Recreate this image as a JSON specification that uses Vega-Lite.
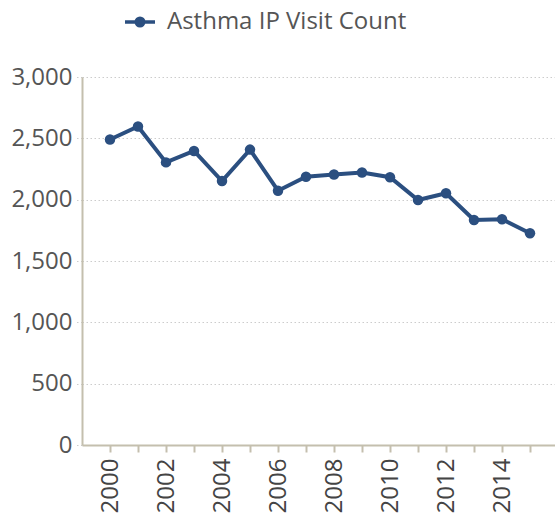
{
  "$schema": "https://vega.github.io/schema/vega-lite/v6.json",
  "autosize": "none",
  "width": 476,
  "height": 368,
  "padding": {"left": 82, "top": 77, "right": 0, "bottom": 70},
  "background": "white",
  "config": {
    "view": {"stroke": null},
    "font": "Open Sans"
  },
  "data": {
    "values": [
      {"year": 2000, "series": "Asthma IP Visit Count", "count": 2490},
      {"year": 2001, "series": "Asthma IP Visit Count", "count": 2597},
      {"year": 2002, "series": "Asthma IP Visit Count", "count": 2304},
      {"year": 2003, "series": "Asthma IP Visit Count", "count": 2397},
      {"year": 2004, "series": "Asthma IP Visit Count", "count": 2152},
      {"year": 2005, "series": "Asthma IP Visit Count", "count": 2408},
      {"year": 2006, "series": "Asthma IP Visit Count", "count": 2073},
      {"year": 2007, "series": "Asthma IP Visit Count", "count": 2187},
      {"year": 2008, "series": "Asthma IP Visit Count", "count": 2205},
      {"year": 2009, "series": "Asthma IP Visit Count", "count": 2222},
      {"year": 2010, "series": "Asthma IP Visit Count", "count": 2183},
      {"year": 2011, "series": "Asthma IP Visit Count", "count": 1997},
      {"year": 2012, "series": "Asthma IP Visit Count", "count": 2052},
      {"year": 2013, "series": "Asthma IP Visit Count", "count": 1834},
      {"year": 2014, "series": "Asthma IP Visit Count", "count": 1840},
      {"year": 2015, "series": "Asthma IP Visit Count", "count": 1726}
    ]
  },
  "encoding": {
    "x": {
      "field": "year",
      "type": "ordinal",
      "scale": {"type": "point", "padding": 1.05},
      "axis": {
        "title": null,
        "labelAngle": -90,
        "labelAlign": "right",
        "labelBaseline": "middle",
        "labelFontSize": 24,
        "labelColor": "#444444",
        "labelPadding": 6,
        "labelExpr": "datum.value % 2 == 0 ? datum.label : ''",
        "labelOverlap": false,
        "domainColor": "#c4bfae",
        "domainWidth": 2,
        "tickColor": "#c4bfae",
        "tickWidth": 2,
        "tickSize": 7,
        "grid": false
      }
    },
    "y": {
      "field": "count",
      "type": "quantitative",
      "scale": {"domain": [0, 3000], "nice": false},
      "axis": {
        "title": null,
        "values": [0, 500, 1000, 1500, 2000, 2500, 3000],
        "labelFontSize": 24,
        "labelColor": "#555555",
        "labelPadding": 4,
        "domainColor": "#c4bfae",
        "domainWidth": 2,
        "tickColor": "#cccccc",
        "tickDash": [1.5, 2.5],
        "tickSize": 6,
        "gridColor": "#cccccc",
        "gridDash": [1.5, 2.5],
        "gridWidth": 1
      }
    },
    "color": {
      "field": "series",
      "type": "nominal",
      "scale": {"range": ["#2b4f80"]},
      "legend": {
        "title": null,
        "orient": "none",
        "legendX": 41,
        "legendY": -72,
        "labelFontSize": 24,
        "labelColor": "#555555",
        "labelLimit": 400,
        "symbolType": "M-1,0L1,0M-0.25,0A0.25,0.25 0 1,0 0.25,0A0.25,0.25 0 1,0 -0.25,0Z",
        "symbolSize": 900,
        "symbolStrokeWidth": 3.5,
        "symbolFillColor": "#2b4f80",
        "symbolStrokeColor": "#2b4f80",
        "labelOffset": 10
      }
    }
  },
  "layer": [
    {"mark": {"type": "line", "strokeWidth": 4}},
    {"mark": {"type": "point", "filled": true, "size": 110, "opacity": 1}}
  ]
}
